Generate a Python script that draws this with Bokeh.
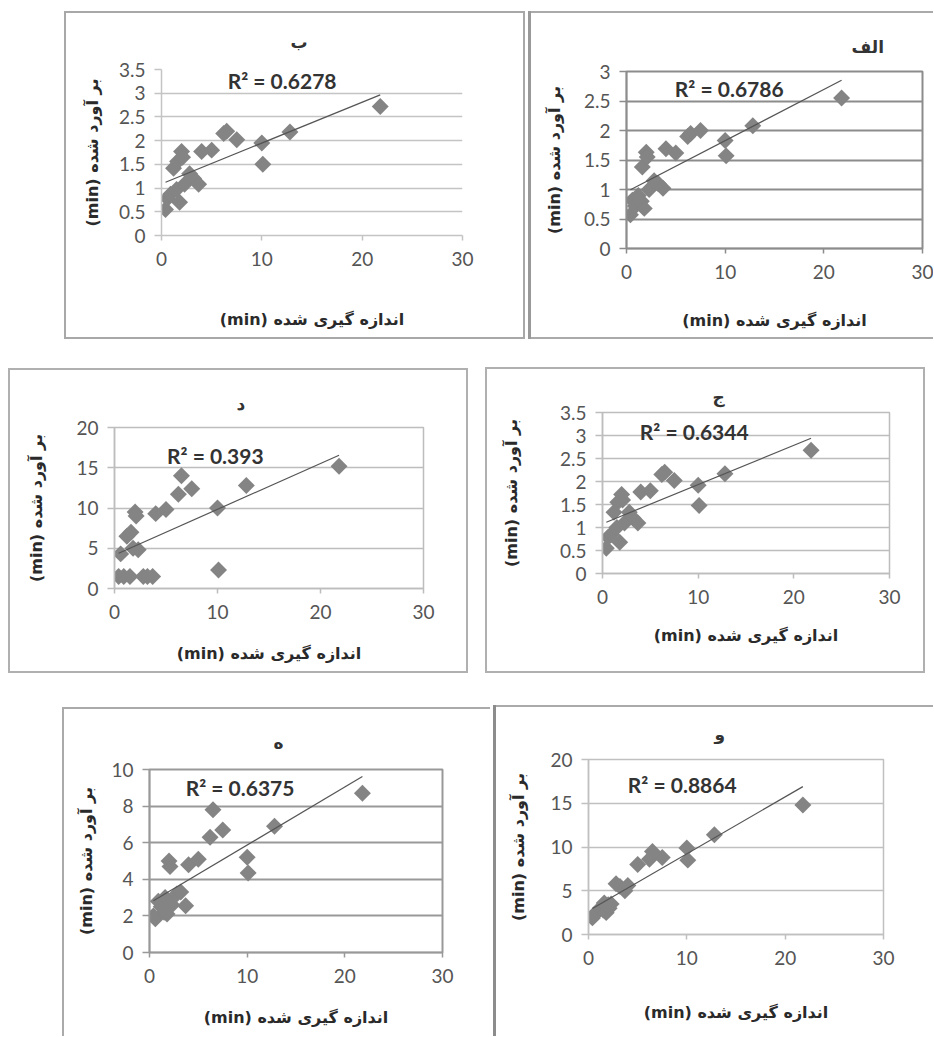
import numpy as np
from bokeh.plotting import figure
from bokeh.layouts import column, row
from bokeh.models import Spacer, Label, Range1d, FixedTicker
from bokeh.embed import file_html
from bokeh.resources import INLINE

# measured times (min), shared by all panels
measured = [0.4, 0.6, 0.9, 1.2, 1.5, 1.6, 1.8, 2.0, 2.1, 2.3, 2.8, 3.2, 3.7, 4.0,
            5.0, 6.2, 6.5, 7.5, 10.0, 10.1, 12.8, 21.8]

# estimated times (min) per panel
est_alef = [0.57, 0.82, 0.72, 0.90, 0.80, 1.38, 0.68, 1.63, 1.55, 1.00, 1.15, 1.10,
            1.02, 1.69, 1.62, 1.90, 1.95, 2.00, 1.83, 1.57, 2.08, 2.55]
est_be = [0.55, 0.78, 0.87, 1.42, 0.97, 1.56, 0.70, 1.77, 1.65, 1.08, 1.30, 1.20,
          1.08, 1.77, 1.80, 2.15, 2.20, 2.02, 1.95, 1.50, 2.18, 2.72]
est_jim = [0.55, 0.79, 0.85, 1.33, 1.00, 1.55, 0.68, 1.72, 1.60, 1.10, 1.33, 1.20,
           1.10, 1.77, 1.80, 2.15, 2.20, 2.02, 1.92, 1.48, 2.17, 2.68]
est_dal = [1.5, 4.3, 1.5, 6.5, 1.5, 7.0, 5.0, 9.5, 9.0, 4.8, 1.5, 1.5,
           1.5, 9.3, 9.8, 11.7, 14.0, 12.4, 10.0, 2.3, 12.8, 15.2]
est_he = [2.0, 1.84, 2.8, 2.5, 2.2, 3.0, 2.1, 5.0, 4.7, 2.6, 3.2, 3.3,
          2.55, 4.8, 5.1, 6.3, 7.8, 6.7, 5.2, 4.35, 6.9, 8.7]
est_vav = [1.9, 2.3, 2.6, 3.0, 2.8, 3.6, 2.5, 3.4, 3.0, 3.5, 5.8, 5.5,
           5.0, 5.6, 8.0, 8.6, 9.5, 8.8, 9.9, 8.5, 11.4, 14.8]

titles = {"alef": "الف", "be": "ب", "jim": "ج", "dal": "د", "he": "ه", "vav": "و"}
r2_text = {"alef": "R² = 0.6786", "be": "R² = 0.6278", "jim": "R² = 0.6344",
           "dal": "R² = 0.393", "he": "R² = 0.6375", "vav": "R² = 0.8864"}
y_max = {"alef": 3, "be": 3.5, "jim": 3.5, "dal": 20, "he": 10, "vav": 20}
y_step = {"alef": 0.5, "be": 0.5, "jim": 0.5, "dal": 5, "he": 2, "vav": 5}
x_ticks = [0, 10, 20, 30]
x_label = "(min) اندازه گیری شده"
y_label = "(min) بر آورد شده"

TICK_FONT = "Lato"
AR_FONT = "DejaVu Sans"


def fmt(v):
    return ("%g" % v)


def make_panel(key, est, box, frame, r2_pos, grid_col, grid_w, outline, shadow,
               title_off, title_standoff, ylab_standoff, xlab_standoff):
    x0, y0, x1, y1 = box
    fx0, fy0, fx1, fy1 = frame
    p = figure(width=x1 - x0, height=y1 - y0,
               min_border_left=fx0 - x0, min_border_right=x1 - fx1,
               min_border_top=fy0 - y0, min_border_bottom=y1 - fy1,
               x_range=Range1d(0, 30), y_range=Range1d(0, y_max[key]),
               output_backend="svg", toolbar_location=None,
               border_fill_color=None, background_fill_color="white",
               styles={"box-shadow": shadow})
    p.outline_line_color = outline[0]
    p.outline_line_width = outline[1]

    p.title.text = titles[key]
    p.title.align = "left"
    p.title.offset = title_off
    p.title.standoff = title_standoff
    p.title.text_font = AR_FONT
    p.title.text_font_size = "17px"
    p.title.text_font_style = "bold"
    p.title.text_color = "#333333"

    yt = list(np.arange(0, y_max[key] + 1e-9, y_step[key]))
    p.xaxis.ticker = FixedTicker(ticks=x_ticks)
    p.yaxis.ticker = FixedTicker(ticks=yt)
    p.xaxis.major_label_overrides = {float(t): fmt(t) for t in x_ticks}
    p.yaxis.major_label_overrides = {float(t): fmt(t) for t in yt}

    for ax in (p.xaxis[0], p.yaxis[0]):
        ax.axis_line_color = grid_col
        ax.axis_line_width = 1.5
        ax.major_tick_line_color = grid_col
        ax.major_tick_line_width = 1.5
        ax.major_tick_in = 0
        ax.minor_tick_line_color = None
        ax.major_label_text_font = TICK_FONT
        ax.major_label_text_font_size = "19px"
        ax.major_label_text_color = "#555555"
        ax.axis_label_text_font = AR_FONT
        ax.axis_label_text_font_size = "16px"
        ax.axis_label_text_font_style = "bold"
        ax.axis_label_text_color = "#2a2a2a"
    p.xaxis.major_tick_out = 5
    p.yaxis.major_tick_out = 7
    p.xaxis.major_label_standoff = 11
    p.yaxis.major_label_standoff = 9
    p.xaxis.axis_label = x_label
    p.yaxis.axis_label = y_label
    p.xaxis.axis_label_standoff = xlab_standoff
    p.yaxis.axis_label_standoff = ylab_standoff

    p.xgrid.visible = False
    p.ygrid.grid_line_color = grid_col
    p.ygrid.grid_line_width = grid_w

    p.scatter(measured, est, marker="square", angle=np.pi / 4, size=12,
              fill_color="#848484", line_color=None)

    slope, icpt = np.polyfit(measured, est, 1)
    lx = [min(measured), max(measured)]
    p.line(lx, [slope * v + icpt for v in lx], line_color="#555555", line_width=1.2)

    p.add_layout(Label(x=r2_pos[0], y=r2_pos[1], text=r2_text[key],
                       text_font=TICK_FONT, text_font_size="21px",
                       text_font_style="bold", text_color="#333333",
                       text_baseline="middle"))
    return p


def place(p, dy):
    return column(Spacer(height=dy, width=p.width), p)


p_be = make_panel("be", est_be, (64, 11, 525, 339), (161, 67, 462, 235), (6.6, 3.27),
                  "#c4c4c4", 1.5, (None, 1), "inset 0 0 0 2px #a8a8a8",
                  129, 36, 14, 41)
p_alef = make_panel("alef", est_alef, (528, 11, 933, 339), (626, 71, 922, 248), (4.9, 2.71),
                    "#8c8c8c", 2, ("#8c8c8c", 2),
                    "inset 3px 0 0 #999999, inset 0 2px 0 #aaaaaa, inset 0 -2px 0 #aaaaaa",
                    225, 30, 17, 29)
p_dal = make_panel("dal", est_dal, (8, 368, 468, 673), (114, 427, 423, 588), (5.1, 16.5),
                   "#bdbdbd", 1.5, ("#bdbdbd", 1.5), "inset 0 0 0 2px #b0b0b0",
                   122, 28, 27, 22)
p_jim = make_panel("jim", est_jim, (485, 367, 925, 673), (602, 412, 889, 573), (3.9, 3.09),
                   "#bdbdbd", 1.5, ("#bdbdbd", 1.5), "inset 0 0 0 2px #b0b0b0",
                   110, 12, 36, 19)
p_he = make_panel("he", est_he, (62, 707, 490, 1036), (149, 769, 442, 952), (3.7, 9.0),
                  "#999999", 2, ("#999999", 2),
                  "inset 2px 0 0 #aaaaaa, inset 0 2px 0 #aaaaaa",
                  124, 34, 12, 22)
p_vav = make_panel("vav", est_vav, (493, 705, 933, 1036), (588, 754, 883, 934), (4.0, 17.1),
                   "#c0c0c0", 1.5, ("#c0c0c0", 1.5),
                   "inset 3px 0 0 #8c8c8c, inset 0 2px 0 #aaaaaa",
                   126, 32, 19, 35)

layout = column(
    Spacer(height=10, width=933),
    row(Spacer(width=64, height=329), place(p_be, 1), Spacer(width=3, height=329), place(p_alef, 1)),
    Spacer(height=27, width=933),
    row(Spacer(width=8, height=307), place(p_dal, 2), Spacer(width=17, height=307), place(p_jim, 1)),
    Spacer(height=31, width=933),
    row(Spacer(width=62, height=332), place(p_he, 3), Spacer(width=3, height=332), place(p_vav, 1)),
)

open("out.html", "w").write(file_html(layout, INLINE))
